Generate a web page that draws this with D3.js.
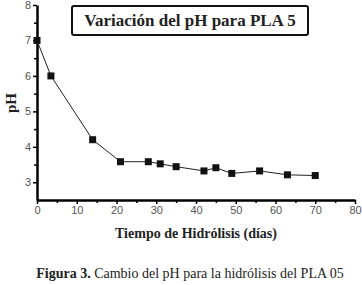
<!DOCTYPE html>
<html>
<head>
<meta charset="utf-8">
<script src="https://cdn.jsdelivr.net/npm/d3@7"></script>
<style>
    body { margin: 0; background: white; }
    .tick text { font-family: "Liberation Sans Narrow", "Liberation Sans", Arial, sans-serif; fill: #555; }
    .serif { font-family: "Liberation Serif", "Times New Roman", "DejaVu Serif", serif; fill: #222; }
</style>
</head>
<body>
<div id="chart"></div>
<script>
// Data
let days = [0, 3.5, 14, 21, 28, 31, 35, 42, 45, 49, 56, 63, 70];
let phValues = [7.0, 6.0, 4.2, 3.58, 3.58, 3.52, 3.44, 3.32, 3.41, 3.25, 3.32, 3.21, 3.19];
let xTicks = [0, 10, 20, 30, 40, 50, 60, 70, 80];
let yTicks = [3, 4, 5, 6, 7, 8];

let width = 362, height = 285;
let margin = {left: 37, top: 5, right: 7, bottom: 85};
let innerW = width - margin.left - margin.right;
let innerH = height - margin.top - margin.bottom;

let svg = d3.select("#chart").append("svg")
    .attr("width", width)
    .attr("height", height);

let g = svg.append("g")
    .attr("transform", "translate(" + margin.left + "," + margin.top + ")");

let x = d3.scaleLinear().domain([0, 80]).range([0, innerW]);
let y = d3.scaleLinear().domain([2.5, 8]).range([innerH, 0]);

// minor ticks
g.append("g")
    .attr("transform", "translate(0," + innerH + ")")
    .call(d3.axisBottom(x).tickValues(d3.range(5, 80, 10)).tickSize(3).tickFormat(""))
    .call(a => a.select(".domain").remove())
    .selectAll("line").attr("stroke-width", 1.5);

g.append("g")
    .call(d3.axisLeft(y).tickValues(d3.range(3.5, 8, 1)).tickSize(3).tickFormat(""))
    .call(a => a.select(".domain").remove())
    .selectAll("line").attr("stroke-width", 1.5);

// major axes
let xAxis = g.append("g")
    .attr("transform", "translate(0," + innerH + ")")
    .call(d3.axisBottom(x).tickValues(xTicks).tickFormat(d3.format("d")).tickSize(4).tickSizeOuter(0).tickPadding(2));
xAxis.select(".domain").attr("stroke-width", 2.5);
xAxis.selectAll(".tick line").attr("stroke-width", 1.5);
xAxis.selectAll(".tick text").style("font-size", "11px");

let yAxis = g.append("g")
    .call(d3.axisLeft(y).tickValues(yTicks).tickFormat(d3.format("d")).tickSize(4).tickSizeOuter(0).tickPadding(2));
yAxis.select(".domain").attr("stroke-width", 2.5);
yAxis.selectAll(".tick line").attr("stroke-width", 1.5);
yAxis.selectAll(".tick text").style("font-size", "11px");

// line + markers
let points = days.map((d, i) => ({day: d, ph: phValues[i]}));

g.append("path")
    .datum(points)
    .attr("fill", "none")
    .attr("stroke", "#222")
    .attr("stroke-width", 1)
    .attr("d", d3.line().x(d => x(d.day)).y(d => y(d.ph)));

g.selectAll(".pt")
    .data(points)
    .enter().append("rect")
    .attr("class", "pt")
    .attr("x", d => x(d.day) - 3.5)
    .attr("y", d => y(d.ph) - 3.5)
    .attr("width", 7)
    .attr("height", 7)
    .attr("fill", "#111");

// title box
svg.append("rect")
    .attr("x", 72)
    .attr("y", 6)
    .attr("width", 236)
    .attr("height", 29)
    .attr("rx", 2)
    .attr("fill", "white")
    .attr("stroke", "#111")
    .attr("stroke-width", 2);

svg.append("text")
    .attr("class", "serif")
    .attr("x", 190)
    .attr("y", 26)
    .attr("text-anchor", "middle")
    .style("font-weight", "bold")
    .style("font-size", "17px")
    .text("Variación del pH para PLA 5");

// axis labels
svg.append("text")
    .attr("class", "serif")
    .attr("transform", "translate(16,103) rotate(-90)")
    .attr("text-anchor", "middle")
    .style("font-weight", "bold")
    .style("font-size", "15px")
    .text("pH");

svg.append("text")
    .attr("class", "serif")
    .attr("x", 196)
    .attr("y", 238)
    .attr("text-anchor", "middle")
    .style("font-weight", "bold")
    .style("font-size", "14px")
    .text("Tiempo de Hidrólisis (días)");

// caption
let cap = svg.append("text")
    .attr("class", "serif")
    .attr("x", 190)
    .attr("y", 278)
    .attr("text-anchor", "middle")
    .style("font-size", "14px");
cap.append("tspan").style("font-weight", "bold").text("Figura 3.");
cap.append("tspan").text(" Cambio del pH para la hidrólisis del PLA 05");
</script>
</body>
</html>
